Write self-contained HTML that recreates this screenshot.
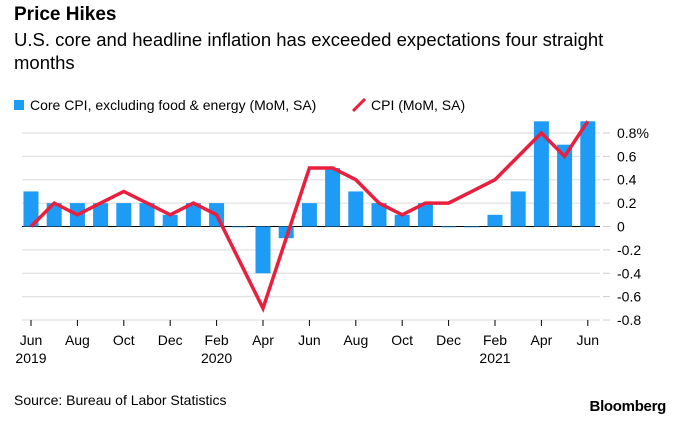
<!DOCTYPE html>
<html><head><meta charset="utf-8"><style>
body{margin:0;width:680px;height:421px;background:#fff;font-family:"Liberation Sans",sans-serif;overflow:hidden;position:relative}
.t{position:absolute;white-space:nowrap;color:#000}
</style></head><body>
<div class="t" style="left:14px;top:4px;font-size:19px;font-weight:bold">Price Hikes</div>
<div class="t" style="left:14px;top:28px;font-size:18.5px;line-height:23px;white-space:normal;width:630px">U.S. core and headline inflation has exceeded expectations four straight months</div>
<div class="t" style="left:14px;top:97px;font-size:14px"><span style="display:inline-block;width:10px;height:10px;background:#1e9bf5;margin-right:6px"></span>Core CPI, excluding food &amp; energy (MoM, SA)</div>
<div class="t" style="left:352px;top:97px;font-size:14px"><svg width="14" height="14" style="vertical-align:-2px;margin-right:5px"><line x1="1" y1="13" x2="13" y2="1" stroke="#e8203e" stroke-width="3"/></svg>CPI (MoM, SA)</div>
<svg id="c" width="680" height="421" style="position:absolute;left:0;top:0"></svg>
<div class="t" style="left:14px;top:392px;font-size:14px">Source: Bureau of Labor Statistics</div>
<div class="t" style="right:14px;top:398px;font-size:15px;font-weight:bold;letter-spacing:-0.3px">Bloomberg</div>
<script>
const core=[0.3,0.2,0.2,0.2,0.2,0.2,0.1,0.2,0.2,0,-0.4,-0.1,0.2,0.5,0.3,0.2,0.1,0.2,0,0,0.1,0.3,0.9,0.7,0.9];
const cpi=[0,0.2,0.1,0.2,0.3,0.2,0.1,0.2,0.1,-0.3,-0.7,-0.1,0.5,0.5,0.4,0.2,0.1,0.2,0.2,0.3,0.4,0.6,0.8,0.6,0.9];
const yTicks=[0.8,0.6,0.4,0.2,0,-0.2,-0.4,-0.6,-0.8];
const yLabels=["0.8%","0.6","0.4","0.2","0","-0.2","-0.4","-0.6","-0.8"];
const xTickIdx=[0,2,4,6,8,10,12,14,16,18,20,22,24];
const xLabels=["Jun","Aug","Oct","Dec","Feb","Apr","Jun","Aug","Oct","Dec","Feb","Apr","Jun"];
const xYears={0:"2019",8:"2020",20:"2021"};
const svg=document.getElementById('c');const NS="http://www.w3.org/2000/svg";
const x=i=>31+i*23.2;const y=v=>226.5-v*116.9;
function mk(t,a,p){const e=document.createElementNS(NS,t);for(const k in a)e.setAttribute(k,a[k]);(p||svg).appendChild(e);return e;}
yTicks.forEach((v,i)=>{
 const g=mk('line',{x1:22,x2:600,y1:y(v),y2:y(v),stroke:v===0?'#000':'#e2e2e2','stroke-width':v===0?1:1.2});
 
 
 mk('line',{x1:603,x2:610,y1:y(v),y2:y(v),stroke:'#ccc'});
 const t=mk('text',{x:617,y:y(v)+5,'font-size':14,fill:'#000'});t.textContent=yLabels[i];
 
 
});
core.forEach((v,i)=>{
 const r=mk('rect',{x:x(i)-7.5,y:Math.min(y(v),y(0)),width:15,height:Math.max(Math.abs(y(v)-y(0)),0.8),fill:'#1e9bf5'});
 
 
});
const p=mk('polyline',{points:cpi.map((v,i)=>x(i)+','+y(v)).join(' '),fill:'none',stroke:'#e8203e','stroke-width':3.5,'stroke-linejoin':'miter'});


xTickIdx.forEach((idx,k)=>{
 mk('line',{x1:x(idx),x2:x(idx),y1:320,y2:326,stroke:'#000'});
 const t=mk('text',{x:x(idx),y:345,'font-size':14,'text-anchor':'middle'});t.textContent=xLabels[k];
 
 
 if(xYears[idx]){const yt=mk('text',{x:x(idx),y:363,'font-size':14,'text-anchor':'middle'});yt.textContent=xYears[idx];
 
 }
});
</script>
</body></html>
